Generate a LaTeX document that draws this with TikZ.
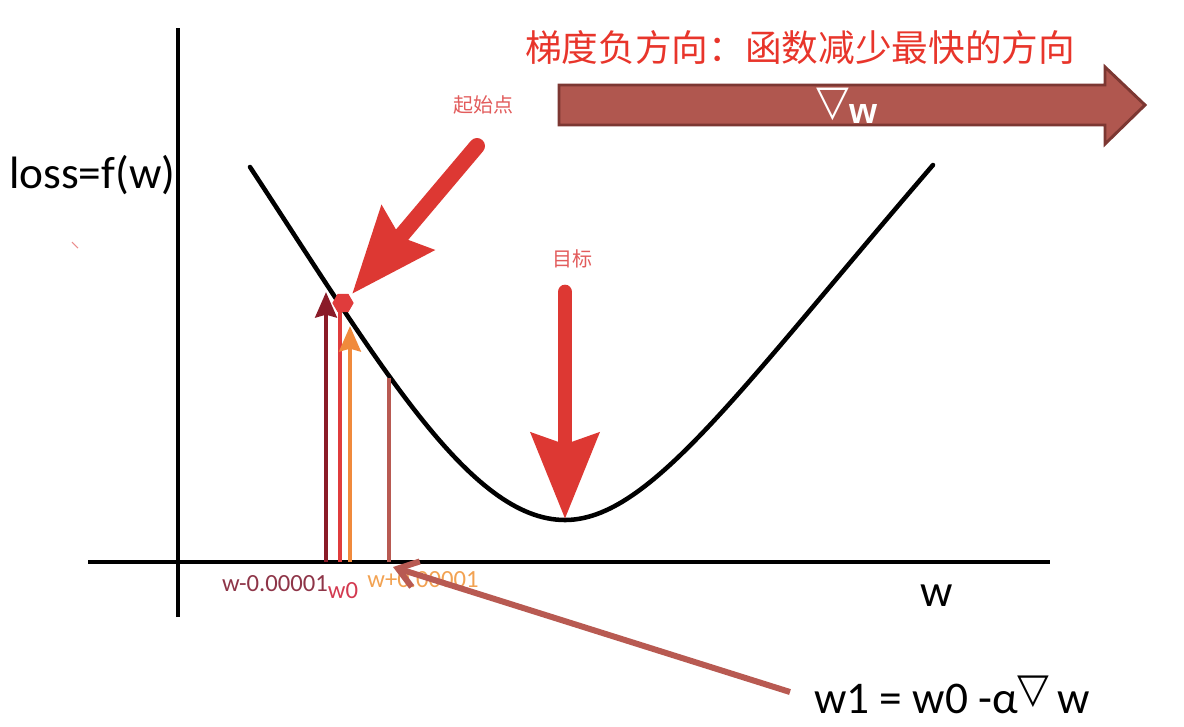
\documentclass[tikz,border=0pt]{standalone}
\usepackage{fontspec}
\setmainfont{Carlito}
\newfontfamily\cjk{Noto Sans CJK SC}
\newfontfamily\dejavu{DejaVu Sans}
\newfontfamily\arialf{Liberation Sans}
\usetikzlibrary{arrows.meta,shapes.geometric}
\definecolor{redA}{HTML}{DD3833}
\definecolor{darkred}{HTML}{8A1B28}
\definecolor{midred}{HTML}{E03C3C}
\definecolor{orangeA}{HTML}{F08A3C}
\definecolor{brownA}{HTML}{B85A52}
\definecolor{bigfill}{HTML}{B0574F}
\definecolor{bigedge}{HTML}{7C3732}
\definecolor{titlered}{HTML}{E8352B}
\definecolor{pinklab}{HTML}{E25C5C}
\definecolor{labA}{HTML}{8E3548}
\definecolor{labB}{HTML}{D33A50}
\definecolor{labC}{HTML}{F2A252}
\tikzset{
  axisline/.style={line width=2.4pt, black},
  curveline/.style={line width=3.4pt, black},
  bigred/.style={redA, line cap=round, -{Stealth[length=64pt, width=50pt, inset=8pt]}},
  thinarrow/.style={line width=3.6pt, -{Stealth[length=19pt, width=16pt, inset=2pt]}},
  pointer/.style={brownA, line width=4.5pt, -{Straight Barb[length=14pt, width=20pt, line width=4.5pt]}},
  cjklab/.style={font=\cjk\fontsize{15}{18}\selectfont, text=pinklab, inner sep=0pt},
  ticklab/.style={font=\fontsize{18.5}{20}\selectfont, inner sep=0pt},
  biglab/.style={font=\fontsize{34}{38}\selectfont, inner sep=0pt}
}
\begin{document}
\begin{tikzpicture}[x=0.75pt,y=-0.75pt]
\useasboundingbox (0,0) rectangle (1184,726);
% axes
\coordinate (yb) at (178,617);
\coordinate (yt) at (178,28);
\coordinate (xl) at (88,562);
\coordinate (xr) at (1050,562);
\draw[axisline] (yb) -- (yt);
\draw[axisline] (xl) -- (xr);
% curve
\coordinate (c0) at (250,167);
\coordinate (cmin) at (565,520);
\coordinate (c1) at (933,165);
\draw[curveline, line cap=round] (c0) .. controls (380,365) and (470,520) .. (cmin) .. controls (650,520) and (740,389) .. (c1);
% vertical arrows
\coordinate (d0) at (326,562); \coordinate (d1) at (326,292);
\coordinate (r0) at (340,562); \coordinate (r1) at (340,303);
\coordinate (o0) at (350,562); \coordinate (o1) at (350,326);
\coordinate (b0) at (389,562); \coordinate (b1) at (389,378);
\draw[thinarrow, darkred] (d0) -- (d1);
\draw[line width=3.6pt, midred] (r0) -- (r1);
\draw[thinarrow, orangeA] (o0) -- (o1);
\draw[line width=3pt, brownA] (b0) -- (b1);
\node[regular polygon, regular polygon sides=6, fill=midred, minimum size=16pt, inner sep=0pt] (dot) at (343,303) {};
% big red arrows
\coordinate (s0) at (477,146);
\coordinate (s1) at (352,294);
\draw[bigred, line width=12pt] (s0) -- (s1);
\coordinate (t0) at (565,292);
\coordinate (t1) at (565,519);
\draw[bigred, line width=11pt] (t0) -- (t1);
\node[cjklab] (start) at (483,105) {起始点};
\node[cjklab] (goal) at (572,259) {目标};
% title
\node[font=\cjk\fontsize{27.5}{32}\selectfont, text=titlered, inner sep=0pt] (title) at (800,48) {梯度负方向：函数减少最快的方向};
% gradient arrow
\draw[fill=bigfill, draw=bigedge, line width=2.2pt, line join=miter] (559,85) -- (1105,85) -- (1105,67) -- (1145,105) -- (1105,144) -- (1105,125) -- (559,125) -- cycle;
\node[inner sep=0pt, text=white] (grad) at (847,106) {{\dejavu\fontsize{32}{34}\selectfont ▽}\raisebox{-6pt}{\arialf\bfseries\fontsize{27}{30}\selectfont w}};
% labels
\node[biglab, anchor=west] (loss) at (9,175) {loss=f(w)};
\node[biglab] (waxis) at (937,596) {w};
\node[ticklab, text=labA] (lm) at (275,584) {w-0.00001};
\node[ticklab, text=labB] (l0) at (343,591) {w0};
\node[ticklab, text=labC] (lp) at (423,580) {w+0.00001};
% formula and pointer
\node[biglab, anchor=west] (eq) at (814,695) {w1 = w0 -α\raisebox{8pt}{\dejavu\fontsize{31}{34}\selectfont ▽}\,w};
\coordinate (p1) at (393,567);
\draw[pointer] (eq.west) ++(-24,-3) coordinate (p0) (p0) -- (p1);
% small stray mark
\draw[pinklab!70, line width=0.8pt] (72,242) -- (78,248);
\end{tikzpicture}
\end{document}
